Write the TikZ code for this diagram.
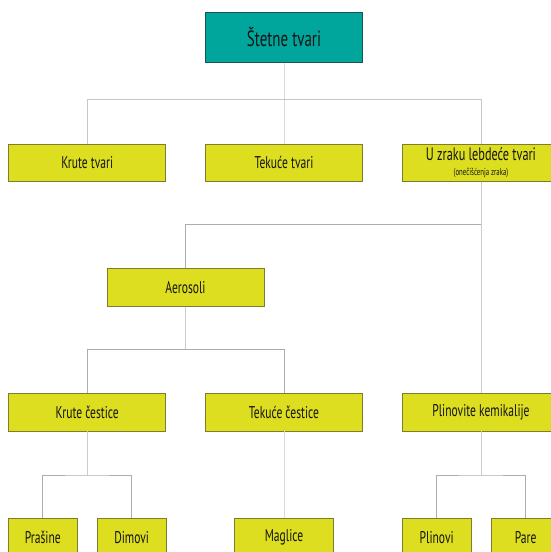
\documentclass[tikz,border=0pt]{standalone}
\usepackage{fontspec}
\setmainfont[FakeStretch=0.68]{PT Sans}
\usepackage{tikz}
\usetikzlibrary{positioning}
\usepackage{xcolor}

\definecolor{tealbox}{RGB}{0,166,155}
\definecolor{tealedge}{RGB}{30,85,80}
\definecolor{limebox}{RGB}{221,222,32}
\definecolor{limeedge}{RGB}{125,125,45}
\definecolor{textgray}{RGB}{20,20,20}

\begin{document}
\begin{tikzpicture}[x=1pt,y=-1pt,
	topbox/.style={draw=tealedge,fill=tealbox,line width=0.8pt,minimum width=157pt,minimum height=50pt,inner sep=0pt,text=textgray,font=\fontsize{22}{24}\selectfont},
	box/.style={draw=limeedge,fill=limebox,line width=0.7pt,minimum width=157pt,minimum height=37.5pt,inner sep=0pt,text=textgray,font=\fontsize{17}{19}\selectfont},
	smallbox/.style={box,minimum width=69pt},
	link/.style={draw=gray!65,line width=0.9pt},
	faintlink/.style={draw=gray!30,line width=0.9pt}]
				\useasboundingbox (0,0) rectangle (551,552);
				% boxes
				\node[topbox] (stetne) at (284,37.5) {\v{S}tetne tvari};
				\node[box] (krutetv) at (87.2,162.7) {Krute tvari};
				\node[box] (tekucetv) at (284,162.7) {Teku\'ce tvari};
				\node[box,align=center] (zrak) at (481,162.7) {{\fontsize{18}{20}\selectfont U zraku lebde\'ce tvari}\\[-4pt]{\fontsize{10}{11}\selectfont (one\v{c}i\v{s}\'cenja zraka)}};
				\node[box] (aerosoli) at (185.5,287.5) {Aerosoli};
				\node[box] (krutec) at (87.2,412.3) {Krute \v{c}estice};
				\node[box] (tekucec) at (284,412.3) {Teku\'ce \v{c}estice};
				\node[box] (plinkem) at (481,412.3) {Plinovite kemikalije};
				\node[smallbox] (prasine) at (42.8,537.5) {Pra\v{s}ine};
				\node[smallbox] (dimovi) at (131.7,537.5) {Dimovi};
				\node[box,minimum width=98.5pt] (maglice) at (284,537.5) {Maglice};
				\node[smallbox] (plinovi) at (436.7,537.5) {Plinovi};
				\node[smallbox] (pare) at (525.7,537.5) {Pare};
				% joints
				\coordinate (j1) at (284,99.3);
				\coordinate (j2) at (481,224.5);
				\coordinate (j3) at (185.5,349.7);
				\coordinate (j4) at (87.2,475);
				\coordinate (j5) at (481,475);
				% connectors
				\draw[faintlink] (stetne) -- (tekucetv);
				\draw[link,draw=gray!45] (krutetv.north) |- (j1) -| (zrak.north);
				\draw[faintlink,draw=gray!40] (zrak) -- (plinkem);
				\draw[link] (aerosoli.north) |- (j2);
				\draw[faintlink,draw=gray!40] (aerosoli) -- (j3);
				\draw[link] (krutec.north) |- (j3) -| (tekucec.north);
				\draw[faintlink] (tekucec) -- (maglice);
				\draw[faintlink,draw=gray!40] (krutec) -- (j4);
				\draw[link] (prasine.north) |- (j4) -| (dimovi.north);
				\draw[faintlink,draw=gray!40] (plinkem) -- (j5);
				\draw[link] (plinovi.north) |- (j5) -| (pare.north);
			\end{tikzpicture}
\end{document}
